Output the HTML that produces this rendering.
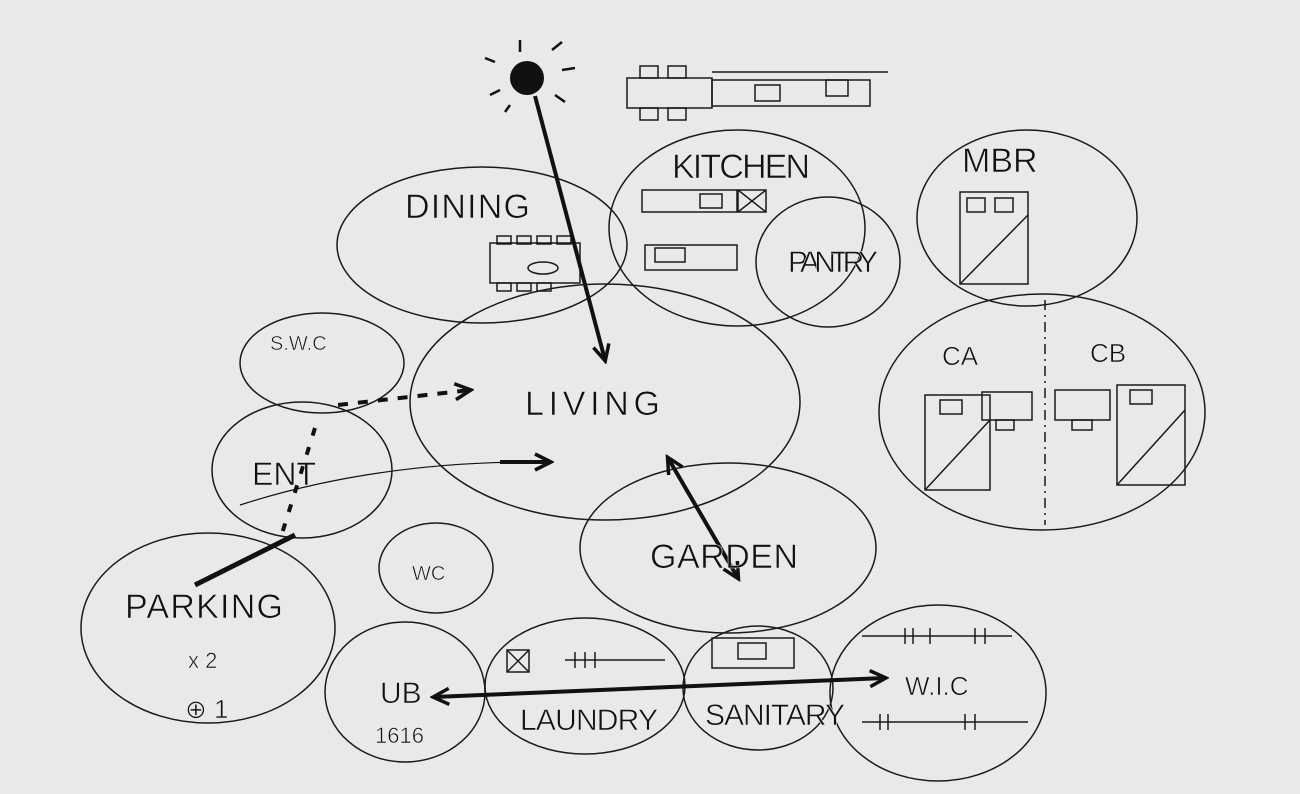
<!DOCTYPE html>
<html><head><meta charset="utf-8"><style>
html,body{margin:0;padding:0;background:#e9e9e9;}
svg{display:block}
text{font-family:"Liberation Sans",sans-serif;fill:#111;}
</style></head><body>
<svg width="1300" height="794" viewBox="0 0 1300 794" xmlns="http://www.w3.org/2000/svg">
<defs>
<marker id="ah" markerWidth="20" markerHeight="20" refX="16" refY="10" orient="auto" markerUnits="userSpaceOnUse"><path d="M1,2 L17,10 L1,18" fill="none" stroke="#111" stroke-width="3.5"/></marker>
<marker id="ahs" markerWidth="20" markerHeight="20" refX="4" refY="10" orient="auto" markerUnits="userSpaceOnUse"><path d="M19,2 L3,10 L19,18" fill="none" stroke="#111" stroke-width="3.5"/></marker>
</defs>
<rect width="1300" height="794" fill="#e9e9e9"/>
<g fill="none" stroke="#1a1a1a" stroke-width="1.5">
<ellipse cx="482" cy="245" rx="145" ry="78"/>
<ellipse cx="737" cy="228" rx="128" ry="98"/>
<ellipse cx="828" cy="262" rx="72" ry="65"/>
<ellipse cx="1027" cy="218" rx="110" ry="88"/>
<ellipse cx="1042" cy="412" rx="163" ry="118"/>
<ellipse cx="322" cy="363" rx="82" ry="50"/>
<ellipse cx="605" cy="402" rx="195" ry="118"/>
<ellipse cx="302" cy="470" rx="90" ry="68"/>
<ellipse cx="436" cy="568" rx="57" ry="45"/>
<ellipse cx="728" cy="548" rx="148" ry="85"/>
<ellipse cx="208" cy="628" rx="127" ry="95"/>
<ellipse cx="405" cy="692" rx="80" ry="70"/>
<ellipse cx="585" cy="686" rx="100" ry="68"/>
<ellipse cx="758" cy="688" rx="75" ry="62"/>
<ellipse cx="938" cy="693" rx="108" ry="88"/>
<!-- furniture -->
<rect x="627" y="78" width="85" height="30"/><rect x="712" y="80" width="158" height="26"/>
<line x1="712" y1="72" x2="888" y2="72"/>
<rect x="640" y="66" width="18" height="12"/><rect x="668" y="66" width="18" height="12"/>
<rect x="640" y="108" width="18" height="12"/><rect x="668" y="108" width="18" height="12"/>
<rect x="755" y="85" width="25" height="16"/><rect x="826" y="80" width="22" height="16"/>
<rect x="642" y="190" width="95" height="22"/><rect x="738" y="190" width="28" height="22"/>
<rect x="700" y="194" width="22" height="14"/>
<line x1="738" y1="190" x2="766" y2="212"/><line x1="766" y1="190" x2="738" y2="212"/>
<rect x="645" y="245" width="92" height="25"/><rect x="655" y="248" width="30" height="14"/>
<rect x="490" y="243" width="90" height="40"/>
<rect x="497" y="236" width="14" height="8"/><rect x="517" y="236" width="14" height="8"/><rect x="537" y="236" width="14" height="8"/><rect x="557" y="236" width="14" height="8"/>
<rect x="497" y="283" width="14" height="8"/><rect x="517" y="283" width="14" height="8"/><rect x="537" y="283" width="14" height="8"/>
<ellipse cx="543" cy="268" rx="15" ry="6"/>
<rect x="960" y="192" width="68" height="92"/><line x1="960" y1="284" x2="1028" y2="215"/>
<rect x="967" y="198" width="18" height="14"/><rect x="995" y="198" width="18" height="14"/>
<rect x="925" y="395" width="65" height="95"/><line x1="925" y1="490" x2="990" y2="420"/>
<rect x="940" y="400" width="22" height="14"/>
<rect x="982" y="392" width="50" height="28"/><rect x="996" y="420" width="18" height="10"/>
<rect x="1055" y="390" width="55" height="30"/><rect x="1072" y="420" width="20" height="10"/>
<rect x="1117" y="385" width="68" height="100"/><line x1="1117" y1="485" x2="1185" y2="410"/>
<rect x="1130" y="390" width="22" height="14"/>
<line x1="1045" y1="300" x2="1045" y2="525" stroke-dasharray="10,5,2,5"/>
<rect x="507" y="650" width="22" height="22"/><line x1="507" y1="650" x2="529" y2="672"/><line x1="529" y1="650" x2="507" y2="672"/>
<line x1="565" y1="660" x2="665" y2="660"/>
<line x1="575" y1="652" x2="575" y2="668"/><line x1="585" y1="652" x2="585" y2="668"/><line x1="595" y1="652" x2="595" y2="668"/>
<rect x="712" y="638" width="82" height="30"/><rect x="738" y="643" width="28" height="16"/>
<line x1="862" y1="636" x2="1012" y2="636"/>
<line x1="905" y1="628" x2="905" y2="644"/><line x1="913" y1="628" x2="913" y2="644"/><line x1="930" y1="628" x2="930" y2="644"/><line x1="975" y1="628" x2="975" y2="644"/><line x1="985" y1="628" x2="985" y2="644"/>
<line x1="862" y1="722" x2="1028" y2="722"/>
<line x1="880" y1="714" x2="880" y2="730"/><line x1="888" y1="714" x2="888" y2="730"/><line x1="965" y1="714" x2="965" y2="730"/><line x1="975" y1="714" x2="975" y2="730"/>
</g>
<!-- sun -->
<circle cx="527" cy="78" r="17" fill="#111"/>
<g stroke="#111" stroke-width="2.5">
<line x1="520" y1="40" x2="520" y2="52"/><line x1="552" y1="50" x2="562" y2="42"/><line x1="562" y1="70" x2="575" y2="68"/>
<line x1="555" y1="95" x2="565" y2="102"/><line x1="495" y1="62" x2="485" y2="58"/><line x1="500" y1="90" x2="490" y2="95"/><line x1="510" y1="105" x2="505" y2="112"/>
</g>
<!-- arrows -->
<g stroke="#111" fill="none">
<line x1="535" y1="96" x2="605" y2="360" stroke-width="4" marker-end="url(#ah)"/>
<line x1="338" y1="405" x2="470" y2="390" stroke-width="4" stroke-dasharray="10,10" marker-end="url(#ah)"/>
<line x1="315" y1="428" x2="280" y2="540" stroke-width="4" stroke-dasharray="8,12"/>
<path d="M195,585 L295,535" stroke-width="5"/>
<path d="M240,505 Q380,460 550,462" stroke-width="1.2"/>
<path d="M500,462 L550,462" stroke-width="4" marker-end="url(#ah)"/>
<line x1="668" y1="458" x2="738" y2="578" stroke-width="4" marker-end="url(#ah)" marker-start="url(#ahs)"/>
<line x1="434" y1="697" x2="885" y2="678" stroke-width="4" marker-end="url(#ah)" marker-start="url(#ahs)"/>
</g>
<!-- labels -->
<g font-size="34" stroke="#e9e9e9" stroke-width="0.6" paint-order="normal">
<text x="405" y="218" letter-spacing="3" textLength="128">DINING</text>
<text x="672" y="178" letter-spacing="2" textLength="140">KITCHEN</text>
<text x="788" y="272" font-size="30" textLength="90">PANTRY</text>
<text x="962" y="172">MBR</text>
<text x="942" y="365" font-size="26">CA</text>
<text x="1090" y="362" font-size="26">CB</text>
<text x="270" y="350" font-size="20" fill="#555">S.W.C</text>
<text x="525" y="415" letter-spacing="5" textLength="140">LIVING</text>
<text x="252" y="485" font-size="32">ENT</text>
<text x="412" y="580" font-size="20" fill="#444">WC</text>
<text x="650" y="568" letter-spacing="2" textLength="150">GARDEN</text>
<text x="125" y="618" letter-spacing="2" textLength="160">PARKING</text>
<text x="188" y="668" font-size="22">x 2</text>
<text x="185" y="718" font-size="26">⊕ 1</text>
<text x="380" y="703" font-size="30">UB</text>
<text x="375" y="743" font-size="22">1616</text>
<text x="520" y="730" font-size="30" textLength="138">LAUNDRY</text>
<text x="705" y="725" font-size="30" textLength="140">SANITARY</text>
<text x="905" y="695" font-size="26">W.I.C</text>
</g>
</svg>
</body></html>
